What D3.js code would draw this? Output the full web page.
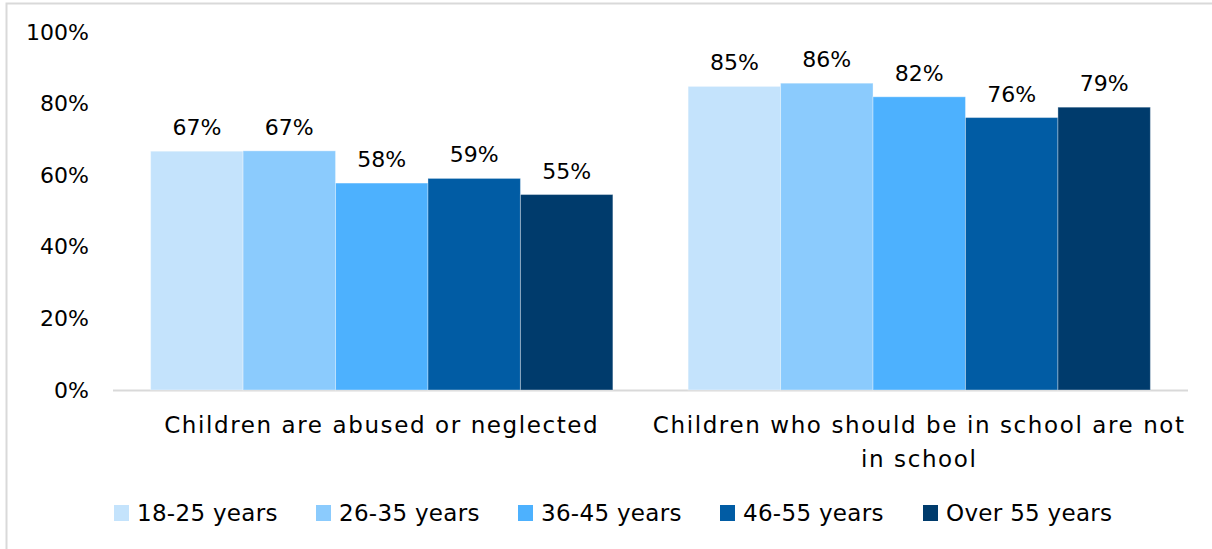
<!DOCTYPE html>
<html>
<head>
<meta charset="utf-8">
<script src="https://cdn.jsdelivr.net/npm/d3@7"></script>
<style>
  html, body { margin: 0; padding: 0; background: #fff; }
  svg { display: block; font-family: "DejaVu Sans", sans-serif; }
</style>
</head>
<body>
<svg id="chart" width="1212" height="549"></svg>
<script>
// ── data ─────────────────────────────────────────────────────────────────────
const categories = [
  ['Children are abused or neglected'],
  ['Children who should be in school are not', 'in school']
];
const series = ['18-25 years', '26-35 years', '36-45 years', '46-55 years', 'Over 55 years'];
const colors = ['#c4e3fc', '#8bcbfd', '#4db1fe', '#015ca4', '#003b6c'];
// values per category, in series order
const abused    = [66.7, 66.8, 57.8, 59.1, 54.6];
const notSchool = [84.8, 85.7, 81.9, 76.1, 79.0];
const yTicks = [0, 20, 40, 60, 80, 100];

const values = [abused, notSchool];

// ── layout ───────────────────────────────────────────────────────────────────
const svg = d3.select('#chart');
const margin = { left: 113, right: 24, top: 32, bottom: 159 };
const W = 1212, H = 549;
const plotW = W - margin.left - margin.right;
const plotH = H - margin.top - margin.bottom;

const g = svg.append('g').attr('transform', `translate(${margin.left},${margin.top})`);

// border of the chart area
svg.append('rect')
  .attr('x', 6.5).attr('y', 3.5)
  .attr('width', W + 10).attr('height', H + 10)
  .attr('fill', 'none').attr('stroke', '#d9d9d9').attr('stroke-width', 2);

const x0 = d3.scaleBand().domain(d3.range(categories.length)).range([0, plotW]).paddingInner(0.14).paddingOuter(0.07);
const x1 = d3.scaleBand().domain(d3.range(series.length)).range([0, x0.bandwidth()]);
const y  = d3.scaleLinear().domain([0, 100]).range([plotH, 0]);

// y axis labels
const yAxis = g.append('g').call(d3.axisLeft(y).tickValues(yTicks).tickSize(0).tickPadding(24).tickFormat(d => d + '%'));
yAxis.select('.domain').remove();
yAxis.selectAll('text').attr('font-size', 22).attr('fill', '#000').attr('font-family', '"DejaVu Sans", sans-serif');

// baseline
g.append('line')
  .attr('x1', 0).attr('x2', plotW)
  .attr('y1', y(0) + 0.5).attr('y2', y(0) + 0.5)
  .attr('stroke', '#d9d9d9').attr('stroke-width', 2);

// bars
const groups = g.selectAll('.cat').data(values).join('g')
  .attr('class', 'cat')
  .attr('transform', (d, i) => `translate(${x0(i)},0)`);

groups.selectAll('rect').data(d => d).join('rect')
  .attr('x', (d, j) => x1(j))
  .attr('y', d => y(d))
  .attr('width', x1.bandwidth())
  .attr('height', d => y(0) - y(d))
  .attr('fill', (d, j) => colors[j])
  .attr('stroke', '#ffffff').attr('stroke-opacity', 0.35).attr('stroke-width', 1);

groups.selectAll('.lbl').data(d => d).join('text')
  .attr('class', 'lbl')
  .attr('x', (d, j) => x1(j) + x1.bandwidth() / 2)
  .attr('y', d => y(d) - 16)
  .attr('text-anchor', 'middle')
  .attr('font-size', 22)
  .attr('fill', '#000')
  .text(d => Math.round(d) + '%');

// category labels (wide geometric face in the original, so a little tracking)
categories.forEach((lines, i) => {
  const cx = x0(i) + x0.bandwidth() / 2;
  const t = g.append('text')
    .attr('x', cx)
    .attr('y', plotH + 43)
    .attr('text-anchor', 'middle')
    .attr('font-size', 23)
    .attr('letter-spacing', 1.6)
    .attr('fill', '#000');
  lines.forEach((s, k) => t.append('tspan')
    .attr('x', cx)
    .attr('dy', k === 0 ? 0 : 34)
    .text(s));
});

// legend
const legendX = [114, 316, 518, 720, 923];
const leg = svg.append('g').selectAll('g').data(series).join('g')
  .attr('transform', (d, i) => `translate(${legendX[i]},513)`);
leg.append('rect')
  .attr('x', 0).attr('y', -8)
  .attr('width', 15).attr('height', 16)
  .attr('fill', (d, i) => colors[i]);
leg.append('text')
  .attr('x', 23).attr('y', 8)
  .attr('font-size', 23)
  .attr('letter-spacing', 0.3)
  .attr('fill', '#000')
  .text(d => d);
</script>
</body>
</html>
